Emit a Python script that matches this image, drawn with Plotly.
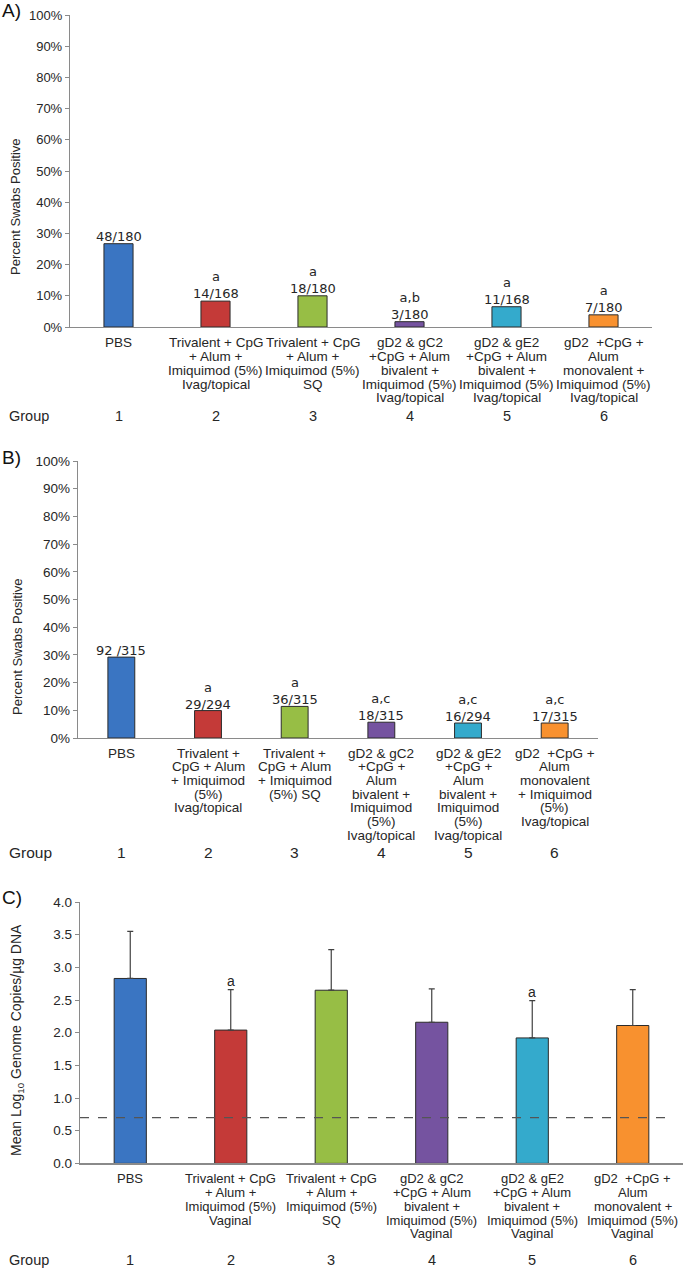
import plotly.graph_objects as go

W, H = 685, 1268

# ---------------- data ----------------
group_numbers = ["1", "2", "3", "4", "5", "6"]
bar_colors = ["#3A75C2", "#C43A38", "#97BE45", "#7553A0", "#34AACC", "#F8912F"]

a_labels = [
    ["PBS"],
    ["Trivalent + CpG", "+ Alum +", "Imiquimod (5%)", "Ivag/topical"],
    ["Trivalent + CpG", "+ Alum +", "Imiquimod (5%)", "SQ"],
    ["gD2 & gC2", "+CpG + Alum", "bivalent +", "Imiquimod (5%)", "Ivag/topical"],
    ["gD2 & gE2", "+CpG + Alum", "bivalent +", "Imiquimod (5%)", "Ivag/topical"],
    ["gD2  +CpG +", "Alum", "monovalent +", "Imiquimod (5%)", "Ivag/topical"],
]
a_counts = ["48/180", "14/168", "18/180", "3/180", "11/168", "7/180"]
a_pct = [26.7, 8.3, 10.0, 1.7, 6.5, 3.9]
a_sig = ["", "a", "a", "a,b", "a", "a"]

b_labels = [
    ["PBS"],
    ["Trivalent +", "CpG + Alum", "+ Imiquimod", "(5%)", "Ivag/topical"],
    ["Trivalent +", "CpG + Alum", "+ Imiquimod", "(5%) SQ"],
    ["gD2 & gC2", "+CpG +", "Alum", "bivalent +", "Imiquimod", "(5%)", "Ivag/topical"],
    ["gD2 & gE2", "+CpG +", "Alum", "bivalent +", "Imiquimod", "(5%)", "Ivag/topical"],
    ["gD2  +CpG +", "Alum", "monovalent", "+ Imiquimod", "(5%)", "Ivag/topical"],
]
b_counts = ["92 /315", "29/294", "36/315", "18/315", "16/294", "17/315"]
b_pct = [29.2, 9.9, 11.4, 5.7, 5.4, 5.4]
b_sig = ["", "a", "a", "a,c", "a,c", "a,c"]

c_labels = [
    ["PBS"],
    ["Trivalent + CpG", "+ Alum +", "Imiquimod (5%)", "Vaginal"],
    ["Trivalent + CpG", "+ Alum +", "Imiquimod (5%)", "SQ"],
    ["gD2 & gC2", "+CpG + Alum", "bivalent +", "Imiquimod (5%)", "Vaginal"],
    ["gD2 & gE2", "+CpG + Alum", "bivalent +", "Imiquimod (5%)", "Vaginal"],
    ["gD2  +CpG +", "Alum", "monovalent +", "Imiquimod (5%)", "Vaginal"],
]
c_mean = [2.83, 2.04, 2.65, 2.16, 1.92, 2.11]
c_sd = [0.72, 0.62, 0.62, 0.51, 0.57, 0.55]
c_sig = ["", "a", "", "", "a", ""]
c_lod = 0.7
c_lod_x = [-0.5, 5.34]

pct_ticks = [0, 10, 20, 30, 40, 50, 60, 70, 80, 90, 100]
log_ticks = [0.0, 0.5, 1.0, 1.5, 2.0, 2.5, 3.0, 3.5, 4.0]

# ---------------- layout helpers ----------------
def fx(px):
    return px / W

def fy(py):
    return 1 - py / H

ARIAL = "Liberation Sans, Arial, sans-serif"
VERD = "DejaVu Sans, Verdana, sans-serif"
TXT = "#262626"
AXC = "#8a8a8a"

fig = go.Figure()
ann = []

panels = [
    dict(key="", x0=70, x1=652, y0=15, y1=327, ymax=100, ticks=pct_ticks, suffix="%",
         lab=a_labels, lab_y=342.7, lab_sp=13.8, lab_fs=13.5, grp_y=416, grp_fs=14.5,
         letter="A)", let_x=0, let_y=11, ytitle="Percent Swabs Positive", yt_x=16, yt_y=207, yt_fs=13,
         tick_fs=13),
    dict(key="2", x0=78, x1=598, y0=461, y1=738, ymax=100, ticks=pct_ticks, suffix="%",
         lab=b_labels, lab_y=753, lab_sp=13.7, lab_fs=13.5, grp_y=852.7, grp_fs=15.5,
         letter="B)", let_x=0, let_y=458, ytitle="Percent Swabs Positive", yt_x=17, yt_y=647, yt_fs=13,
         tick_fs=13.5),
    dict(key="3", x0=80, x1=683, y0=902, y1=1163.4, ymax=4.0, ticks=log_ticks, suffix="",
         lab=c_labels, lab_y=1178.3, lab_sp=13.9, lab_fs=13, grp_y=1260, grp_fs=14.5,
         letter="C)", let_x=0, let_y=897, ytitle="Mean Log<sub>10</sub> Genome Copies/µg DNA",
         yt_x=17, yt_y=1040, yt_fs=14, tick_fs=13.5),
]

for p in panels:
    k = p["key"]
    xa, ya = "xaxis" + k, "yaxis" + k
    xr, yr = "x" + k, "y" + k
    fig.update_layout(**{
        xa: dict(domain=[fx(p["x0"]), fx(p["x1"])], range=[-0.5, 5.5], anchor=yr,
                 showticklabels=False, ticks="", showgrid=False, zeroline=False, automargin=False,
                 showline=True, linecolor=AXC, linewidth=1.2, fixedrange=True),
        ya: dict(domain=[fy(p["y1"]), fy(p["y0"])], range=[0, p["ymax"]], anchor=xr,
                 tickvals=p["ticks"], automargin=False,
                 ticktext=[(f"{t:.0f}%" if p["suffix"] else f"{t:.1f}") for t in p["ticks"]],
                 ticks="outside", ticklen=4, tickcolor=AXC, tickwidth=1,
                 showgrid=False, zeroline=False, showline=True, linecolor=AXC, linewidth=1.2,
                 tickfont=dict(family=ARIAL, size=p["tick_fs"], color=TXT), fixedrange=True),
    })
    # category labels, one annotation per line
    for i, lines in enumerate(p["lab"]):
        for j, line in enumerate(lines):
            ann.append(dict(x=i, xref=xr, y=fy(p["lab_y"] + j * p["lab_sp"]), yref="paper",
                            yanchor="middle", xanchor="center", text=line, showarrow=False,
                            font=dict(family=ARIAL, size=p["lab_fs"], color=TXT)))
    # group row
    ann.append(dict(x=fx(7), xref="paper", y=fy(p["grp_y"]), yref="paper", xanchor="left",
                    yanchor="middle", text="Group", showarrow=False,
                    font=dict(family=ARIAL, size=p["grp_fs"], color=TXT)))
    for i, g in enumerate(group_numbers):
        ann.append(dict(x=i, xref=xr, y=fy(p["grp_y"]), yref="paper", xanchor="center",
                        yanchor="middle", text=g, showarrow=False,
                        font=dict(family=ARIAL, size=p["grp_fs"], color=TXT)))
    # panel letter
    ann.append(dict(x=fx(p["let_x"]), xref="paper", y=fy(p["let_y"]), yref="paper",
                    xanchor="left", yanchor="middle", text=p["letter"], showarrow=False,
                    font=dict(family=ARIAL, size=19, color="#111")))
    # y-axis title
    ann.append(dict(x=fx(p["yt_x"]), xref="paper", y=fy(p["yt_y"]), yref="paper",
                    xanchor="center", yanchor="middle", text=p["ytitle"], textangle=-90,
                    showarrow=False, font=dict(family=ARIAL, size=p["yt_fs"], color=TXT)))

x_idx = list(range(6))
bar_line = dict(color="#2b2b2b", width=1)

# Panel A
fig.add_trace(go.Bar(x=x_idx, y=a_pct, width=0.3, marker=dict(color=bar_colors, line=bar_line),
                     xaxis="x", yaxis="y", hoverinfo="skip"))
for i in x_idx:
    t = (a_sig[i] + "<br>" + a_counts[i]) if a_sig[i] else a_counts[i]
    ann.append(dict(x=i, xref="x", y=a_pct[i], yref="y", yanchor="bottom", text=t, showarrow=False,
                    yshift=-2, font=dict(family=VERD, size=13, color=TXT)))

# Panel B
fig.add_trace(go.Bar(x=x_idx, y=b_pct, width=0.31, marker=dict(color=bar_colors, line=bar_line),
                     xaxis="x2", yaxis="y2", hoverinfo="skip"))
for i in x_idx:
    t = (b_sig[i] + "<br>" + b_counts[i]) if b_sig[i] else b_counts[i]
    ann.append(dict(x=i, xref="x2", y=b_pct[i], yref="y2", yanchor="bottom", text=t, showarrow=False,
                    yshift=-3, font=dict(family=VERD, size=13, color=TXT)))

# Panel C
fig.add_trace(go.Bar(x=x_idx, y=c_mean, width=0.32, marker=dict(color=bar_colors, line=bar_line),
                     error_y=dict(type="data", array=c_sd, arrayminus=[0] * 6, symmetric=False,
                                  color="#404040", thickness=1.2, width=3),
                     xaxis="x3", yaxis="y3", hoverinfo="skip"))
fig.add_trace(go.Scatter(x=c_lod_x, y=[c_lod, c_lod], mode="lines",
                         line=dict(color="#555555", width=1.2, dash="dash"),
                         xaxis="x3", yaxis="y3", hoverinfo="skip"))
for i in x_idx:
    if c_sig[i]:
        ann.append(dict(x=i, xref="x3", y=c_mean[i] + c_sd[i], yref="y3", yanchor="bottom",
                        text=c_sig[i], showarrow=False, yshift=-1,
                        font=dict(family=ARIAL, size=14, color=TXT)))

fig.update_layout(width=W, height=H, margin=dict(l=0, r=0, t=0, b=0, pad=0, autoexpand=False),
                  plot_bgcolor="white", paper_bgcolor="white", showlegend=False,
                  annotations=ann, bargap=0)

fig.write_html("out.html", config={"displayModeBar": False, "staticPlot": True},
               post_script="document.body.style.margin='0';document.body.style.padding='0';")
